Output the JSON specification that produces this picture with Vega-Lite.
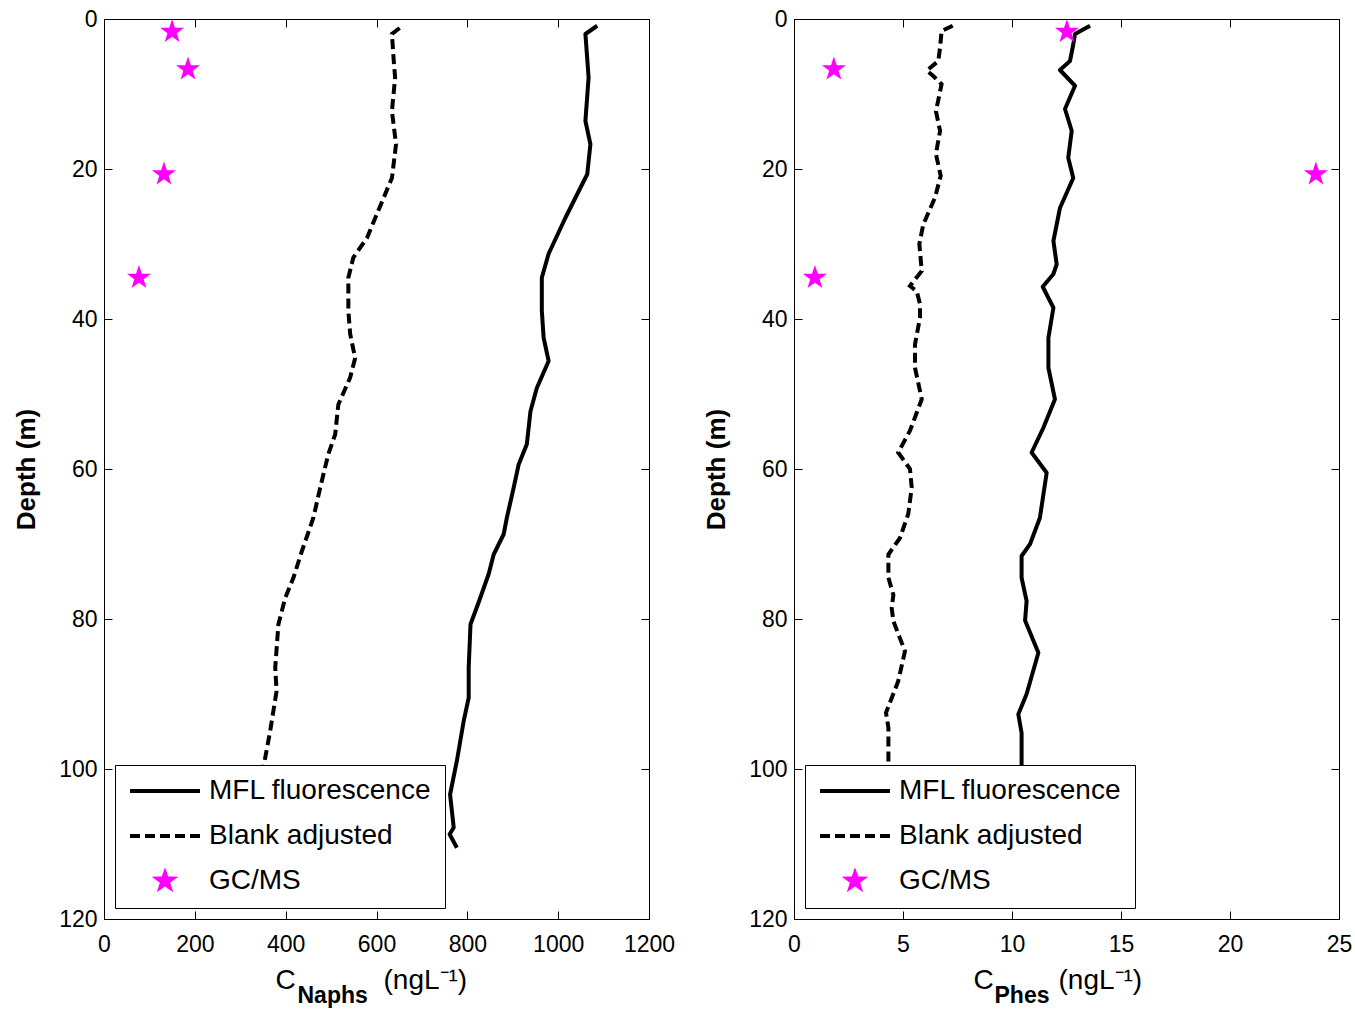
{
  "$schema": "https://vega.github.io/schema/vega-lite/v6.json",
  "background": "white",
  "autosize": {"type": "pad"},
  "padding": {"left": 13, "top": 7, "right": 2, "bottom": 0},
  "bounds": "flush",
  "spacing": 145,
  "config": {
    "font": "Liberation Sans",
    "view": {"stroke": "black", "strokeWidth": 1},
    "axis": {
      "grid": false, "domainColor": "black", "tickColor": "black", "labelColor": "black", "titleColor": "black",
      "labelFont": "Liberation Sans", "titleFont": "Liberation Sans", "labelFontSize": 23,
      "tickSize": -8, "domainWidth": 1, "tickWidth": 1, "labelFlush": false, "labelOverlap": false
    },
    "legend": {
      "title": null, "orient": "bottom-left", "offset": 11,
      "fillColor": "white", "strokeColor": "black", "padding": 13, "cornerRadius": 0,
      "labelFontSize": 28, "labelFont": "Liberation Sans", "labelColor": "black", "labelLimit": 400,
      "symbolSize": 4900, "symbolStrokeWidth": 4, "clipHeight": 26, "rowPadding": 17, "labelOffset": 7,
      "symbolType": "stroke"
    }
  },
  "datasets": {
    "naphs": [
      {"series": "MFL fluorescence", "depth": 0.9, "value": 1086},
      {"series": "MFL fluorescence", "depth": 2.0, "value": 1060},
      {"series": "MFL fluorescence", "depth": 7.8, "value": 1067},
      {"series": "MFL fluorescence", "depth": 13.6, "value": 1060},
      {"series": "MFL fluorescence", "depth": 16.7, "value": 1071},
      {"series": "MFL fluorescence", "depth": 20.7, "value": 1064},
      {"series": "MFL fluorescence", "depth": 22.5, "value": 1049},
      {"series": "MFL fluorescence", "depth": 26.5, "value": 1016},
      {"series": "MFL fluorescence", "depth": 31.3, "value": 979},
      {"series": "MFL fluorescence", "depth": 34.5, "value": 964},
      {"series": "MFL fluorescence", "depth": 38.9, "value": 964},
      {"series": "MFL fluorescence", "depth": 42.5, "value": 968},
      {"series": "MFL fluorescence", "depth": 45.6, "value": 979},
      {"series": "MFL fluorescence", "depth": 49.2, "value": 953},
      {"series": "MFL fluorescence", "depth": 52.3, "value": 939},
      {"series": "MFL fluorescence", "depth": 56.7, "value": 931},
      {"series": "MFL fluorescence", "depth": 59.4, "value": 913},
      {"series": "MFL fluorescence", "depth": 62.5, "value": 902},
      {"series": "MFL fluorescence", "depth": 66.5, "value": 887},
      {"series": "MFL fluorescence", "depth": 68.7, "value": 880},
      {"series": "MFL fluorescence", "depth": 71.4, "value": 858},
      {"series": "MFL fluorescence", "depth": 74.0, "value": 847},
      {"series": "MFL fluorescence", "depth": 77.6, "value": 826},
      {"series": "MFL fluorescence", "depth": 80.7, "value": 807},
      {"series": "MFL fluorescence", "depth": 86.5, "value": 803},
      {"series": "MFL fluorescence", "depth": 90.5, "value": 803},
      {"series": "MFL fluorescence", "depth": 93.6, "value": 792},
      {"series": "MFL fluorescence", "depth": 98.9, "value": 777},
      {"series": "MFL fluorescence", "depth": 103.4, "value": 762},
      {"series": "MFL fluorescence", "depth": 107.8, "value": 770},
      {"series": "MFL fluorescence", "depth": 108.7, "value": 761},
      {"series": "MFL fluorescence", "depth": 110.5, "value": 777},
      {"series": "Blank adjusted", "depth": 1.2, "value": 651},
      {"series": "Blank adjusted", "depth": 2.0, "value": 634},
      {"series": "Blank adjusted", "depth": 5.6, "value": 638},
      {"series": "Blank adjusted", "depth": 7.8, "value": 641},
      {"series": "Blank adjusted", "depth": 12.3, "value": 634},
      {"series": "Blank adjusted", "depth": 16.7, "value": 643},
      {"series": "Blank adjusted", "depth": 21.2, "value": 634},
      {"series": "Blank adjusted", "depth": 23.8, "value": 616},
      {"series": "Blank adjusted", "depth": 29.2, "value": 579},
      {"series": "Blank adjusted", "depth": 31.8, "value": 549},
      {"series": "Blank adjusted", "depth": 34.5, "value": 538},
      {"series": "Blank adjusted", "depth": 38.9, "value": 538},
      {"series": "Blank adjusted", "depth": 42.0, "value": 542},
      {"series": "Blank adjusted", "depth": 45.2, "value": 553},
      {"series": "Blank adjusted", "depth": 47.8, "value": 542},
      {"series": "Blank adjusted", "depth": 51.4, "value": 516},
      {"series": "Blank adjusted", "depth": 55.4, "value": 509},
      {"series": "Blank adjusted", "depth": 58.0, "value": 494},
      {"series": "Blank adjusted", "depth": 62.5, "value": 476},
      {"series": "Blank adjusted", "depth": 66.5, "value": 461},
      {"series": "Blank adjusted", "depth": 70.9, "value": 436},
      {"series": "Blank adjusted", "depth": 74.5, "value": 417},
      {"series": "Blank adjusted", "depth": 77.2, "value": 399},
      {"series": "Blank adjusted", "depth": 80.7, "value": 384},
      {"series": "Blank adjusted", "depth": 86.5, "value": 377},
      {"series": "Blank adjusted", "depth": 89.6, "value": 380},
      {"series": "Blank adjusted", "depth": 94.9, "value": 366},
      {"series": "Blank adjusted", "depth": 99.8, "value": 351},
      {"series": "Blank adjusted", "depth": 103.4, "value": 337},
      {"series": "Blank adjusted", "depth": 107.8, "value": 345},
      {"series": "Blank adjusted", "depth": 108.7, "value": 336},
      {"series": "Blank adjusted", "depth": 110.5, "value": 352},
      {"series": "GC/MS", "depth": 1.7, "value": 150},
      {"series": "GC/MS", "depth": 6.7, "value": 185},
      {"series": "GC/MS", "depth": 20.7, "value": 132},
      {"series": "GC/MS", "depth": 34.5, "value": 77}
    ],
    "phes": [
      {"series": "MFL fluorescence", "depth": 0.9, "value": 13.58},
      {"series": "MFL fluorescence", "depth": 2.0, "value": 12.89},
      {"series": "MFL fluorescence", "depth": 3.4, "value": 12.81},
      {"series": "MFL fluorescence", "depth": 5.6, "value": 12.66},
      {"series": "MFL fluorescence", "depth": 6.8, "value": 12.2},
      {"series": "MFL fluorescence", "depth": 8.9, "value": 12.89},
      {"series": "MFL fluorescence", "depth": 12.0, "value": 12.43},
      {"series": "MFL fluorescence", "depth": 14.9, "value": 12.74},
      {"series": "MFL fluorescence", "depth": 18.5, "value": 12.58},
      {"series": "MFL fluorescence", "depth": 21.2, "value": 12.81},
      {"series": "MFL fluorescence", "depth": 25.2, "value": 12.2},
      {"series": "MFL fluorescence", "depth": 29.6, "value": 11.9},
      {"series": "MFL fluorescence", "depth": 32.7, "value": 12.05},
      {"series": "MFL fluorescence", "depth": 34.0, "value": 11.9},
      {"series": "MFL fluorescence", "depth": 35.7, "value": 11.41},
      {"series": "MFL fluorescence", "depth": 38.5, "value": 11.9},
      {"series": "MFL fluorescence", "depth": 42.5, "value": 11.67},
      {"series": "MFL fluorescence", "depth": 46.5, "value": 11.67},
      {"series": "MFL fluorescence", "depth": 50.7, "value": 11.97},
      {"series": "MFL fluorescence", "depth": 54.5, "value": 11.44},
      {"series": "MFL fluorescence", "depth": 57.8, "value": 10.9},
      {"series": "MFL fluorescence", "depth": 60.5, "value": 11.59},
      {"series": "MFL fluorescence", "depth": 63.4, "value": 11.44},
      {"series": "MFL fluorescence", "depth": 66.5, "value": 11.28},
      {"series": "MFL fluorescence", "depth": 70.0, "value": 10.83},
      {"series": "MFL fluorescence", "depth": 71.6, "value": 10.44},
      {"series": "MFL fluorescence", "depth": 74.5, "value": 10.44},
      {"series": "MFL fluorescence", "depth": 77.6, "value": 10.67},
      {"series": "MFL fluorescence", "depth": 80.2, "value": 10.6},
      {"series": "MFL fluorescence", "depth": 84.5, "value": 11.21},
      {"series": "MFL fluorescence", "depth": 90.0, "value": 10.67},
      {"series": "MFL fluorescence", "depth": 92.7, "value": 10.29},
      {"series": "MFL fluorescence", "depth": 95.2, "value": 10.44},
      {"series": "MFL fluorescence", "depth": 100.0, "value": 10.44},
      {"series": "MFL fluorescence", "depth": 105.0, "value": 10.5},
      {"series": "MFL fluorescence", "depth": 110.5, "value": 10.6},
      {"series": "Blank adjusted", "depth": 0.9, "value": 7.28},
      {"series": "Blank adjusted", "depth": 1.6, "value": 6.77},
      {"series": "Blank adjusted", "depth": 3.8, "value": 6.7},
      {"series": "Blank adjusted", "depth": 5.6, "value": 6.62},
      {"series": "Blank adjusted", "depth": 6.9, "value": 6.09},
      {"series": "Blank adjusted", "depth": 7.6, "value": 6.39},
      {"series": "Blank adjusted", "depth": 8.7, "value": 6.77},
      {"series": "Blank adjusted", "depth": 12.3, "value": 6.51},
      {"series": "Blank adjusted", "depth": 14.9, "value": 6.7},
      {"series": "Blank adjusted", "depth": 18.0, "value": 6.51},
      {"series": "Blank adjusted", "depth": 20.9, "value": 6.73},
      {"series": "Blank adjusted", "depth": 23.8, "value": 6.47},
      {"series": "Blank adjusted", "depth": 27.4, "value": 5.93},
      {"series": "Blank adjusted", "depth": 30.0, "value": 5.75},
      {"series": "Blank adjusted", "depth": 33.6, "value": 5.86},
      {"series": "Blank adjusted", "depth": 35.6, "value": 5.32},
      {"series": "Blank adjusted", "depth": 36.3, "value": 5.63},
      {"series": "Blank adjusted", "depth": 38.0, "value": 5.78},
      {"series": "Blank adjusted", "depth": 39.8, "value": 5.78},
      {"series": "Blank adjusted", "depth": 43.4, "value": 5.55},
      {"series": "Blank adjusted", "depth": 46.5, "value": 5.55},
      {"series": "Blank adjusted", "depth": 50.7, "value": 5.86},
      {"series": "Blank adjusted", "depth": 54.9, "value": 5.32},
      {"series": "Blank adjusted", "depth": 57.8, "value": 4.78},
      {"series": "Blank adjusted", "depth": 60.0, "value": 5.32},
      {"series": "Blank adjusted", "depth": 62.5, "value": 5.4},
      {"series": "Blank adjusted", "depth": 66.0, "value": 5.24},
      {"series": "Blank adjusted", "depth": 69.2, "value": 4.86},
      {"series": "Blank adjusted", "depth": 71.4, "value": 4.33},
      {"series": "Blank adjusted", "depth": 74.5, "value": 4.33},
      {"series": "Blank adjusted", "depth": 76.8, "value": 4.56},
      {"series": "Blank adjusted", "depth": 78.5, "value": 4.48},
      {"series": "Blank adjusted", "depth": 80.3, "value": 4.56},
      {"series": "Blank adjusted", "depth": 84.3, "value": 5.09},
      {"series": "Blank adjusted", "depth": 88.3, "value": 4.78},
      {"series": "Blank adjusted", "depth": 92.5, "value": 4.22},
      {"series": "Blank adjusted", "depth": 94.5, "value": 4.33},
      {"series": "Blank adjusted", "depth": 100.0, "value": 4.33},
      {"series": "Blank adjusted", "depth": 105.0, "value": 4.4},
      {"series": "Blank adjusted", "depth": 110.5, "value": 4.5},
      {"series": "GC/MS", "depth": 1.7, "value": 12.52},
      {"series": "GC/MS", "depth": 6.7, "value": 1.83},
      {"series": "GC/MS", "depth": 20.7, "value": 23.94},
      {"series": "GC/MS", "depth": 34.5, "value": 0.96}
    ]
  },
  "resolve": {"legend": {"color": "independent"}, "scale": {"color": "independent"}},
  "hconcat": [
    {
      "width": 545, "height": 900,
      "data": {"name": "naphs"},
      "resolve": {"axis": {"x": "independent", "y": "independent"}},
      "encoding": {
        "color": {
          "field": "series", "type": "nominal",
          "scale": {"domain": ["MFL fluorescence", "Blank adjusted", "GC/MS"], "range": ["black", "black", "#ff00ff"]},
          "legend": {
            "encode": {"symbols": {"update": {
              "shape": {"signal": "datum.value === 'GC/MS' ? 'M0,-0.22L0.0506,-0.0695L0.209,-0.068L0.0816,0.0266L0.129,0.178L0,0.0858L-0.129,0.178L-0.0816,0.0266L-0.209,-0.068L-0.0506,-0.0695Z' : 'stroke'"},
              "fill": {"signal": "datum.value === 'GC/MS' ? '#ff00ff' : 'transparent'"},
              "stroke": {"signal": "datum.value === 'GC/MS' ? 'transparent' : 'black'"},
              "strokeDash": {"signal": "datum.value === 'Blank adjusted' ? [10, 5] : [1, 0]"},
              "opacity": {"value": 1}
            }}}
          }
        }
      },
      "layer": [
        {
          "transform": [{"filter": "datum.series === 'MFL fluorescence'"}],
          "mark": {"type": "line", "strokeWidth": 4, "strokeJoin": "round"},
          "encoding": {
            "order": {"field": "depth", "type": "quantitative"},
            "x": {"field": "value", "type": "quantitative", "scale": {"domain": [0, 1200], "nice": false},
              "axis": {"orient": "bottom", "values": [0, 200, 400, 600, 800, 1000, 1200], "format": "d", "labelPadding": 22,
                "title": "C", "titleFontSize": 28, "titleFontWeight": "normal",
                "titleX": 171, "titleY": 69, "titleAlign": "left", "titleAnchor": "start", "titleBaseline": "alphabetic"}},
            "y": {"field": "depth", "type": "quantitative", "scale": {"domain": [0, 120], "reverse": true, "nice": false, "zero": false},
              "axis": {"orient": "left", "values": [0, 20, 40, 60, 80, 100, 120], "labelPadding": 15,
                "title": "Depth (m)", "titleFontSize": 26, "titleFontWeight": "bold", "titlePadding": 19}}
          }
        },
        {
          "transform": [{"filter": "datum.series === 'Blank adjusted'"}],
          "mark": {"type": "line", "strokeWidth": 4, "strokeDash": [10, 5]},
          "encoding": {
            "order": {"field": "depth", "type": "quantitative"},
            "x": {"field": "value", "type": "quantitative", "scale": {"domain": [0, 1200], "nice": false},
              "axis": {"orient": "bottom", "labels": false, "ticks": false, "domain": false,
                "title": "Naphs", "titleFontSize": 23, "titleFontWeight": "bold",
                "titleX": 193, "titleY": 83, "titleAlign": "left", "titleAnchor": "start", "titleBaseline": "alphabetic"}},
            "y": {"field": "depth", "type": "quantitative", "scale": {"domain": [0, 120], "reverse": true, "nice": false, "zero": false}, "axis": null}
          }
        },
        {
          "transform": [{"filter": "datum.series === 'GC/MS'"}],
          "mark": {"type": "point", "filled": true, "opacity": 1, "size": 640,
            "shape": "M0,-1L0.229,-0.316L0.951,-0.309L0.371,0.121L0.588,0.809L0,0.39L-0.588,0.809L-0.371,0.121L-0.951,-0.309L-0.229,-0.316Z"},
          "encoding": {
            "x": {"field": "value", "type": "quantitative", "scale": {"domain": [0, 1200], "nice": false},
              "axis": {"orient": "top", "values": [0, 200, 400, 600, 800, 1000, 1200], "labels": false,
                "title": "(ngL\u207b\u00b9)", "titleFontSize": 28, "titleFontWeight": "normal",
                "titleX": 279, "titleY": 969, "titleAlign": "left", "titleAnchor": "start", "titleBaseline": "alphabetic"}},
            "y": {"field": "depth", "type": "quantitative", "scale": {"domain": [0, 120], "reverse": true, "nice": false, "zero": false},
              "axis": {"orient": "right", "values": [0, 20, 40, 60, 80, 100, 120], "labels": false, "title": null}}
          }
        }
      ]
    },
    {
      "width": 545, "height": 900,
      "data": {"name": "phes"},
      "resolve": {"axis": {"x": "independent", "y": "independent"}},
      "encoding": {
        "color": {
          "field": "series", "type": "nominal",
          "scale": {"domain": ["MFL fluorescence", "Blank adjusted", "GC/MS"], "range": ["black", "black", "#ff00ff"]},
          "legend": {
            "encode": {"symbols": {"update": {
              "shape": {"signal": "datum.value === 'GC/MS' ? 'M0,-0.22L0.0506,-0.0695L0.209,-0.068L0.0816,0.0266L0.129,0.178L0,0.0858L-0.129,0.178L-0.0816,0.0266L-0.209,-0.068L-0.0506,-0.0695Z' : 'stroke'"},
              "fill": {"signal": "datum.value === 'GC/MS' ? '#ff00ff' : 'transparent'"},
              "stroke": {"signal": "datum.value === 'GC/MS' ? 'transparent' : 'black'"},
              "strokeDash": {"signal": "datum.value === 'Blank adjusted' ? [10, 5] : [1, 0]"},
              "opacity": {"value": 1}
            }}}
          }
        }
      },
      "layer": [
        {
          "transform": [{"filter": "datum.series === 'MFL fluorescence'"}],
          "mark": {"type": "line", "strokeWidth": 4, "strokeJoin": "round"},
          "encoding": {
            "order": {"field": "depth", "type": "quantitative"},
            "x": {"field": "value", "type": "quantitative", "scale": {"domain": [0, 25], "nice": false},
              "axis": {"orient": "bottom", "values": [0, 5, 10, 15, 20, 25], "format": "d", "labelPadding": 22,
                "title": "C", "titleFontSize": 28, "titleFontWeight": "normal",
                "titleX": 179, "titleY": 69, "titleAlign": "left", "titleAnchor": "start", "titleBaseline": "alphabetic"}},
            "y": {"field": "depth", "type": "quantitative", "scale": {"domain": [0, 120], "reverse": true, "nice": false, "zero": false},
              "axis": {"orient": "left", "values": [0, 20, 40, 60, 80, 100, 120], "labelPadding": 15,
                "title": "Depth (m)", "titleFontSize": 26, "titleFontWeight": "bold", "titlePadding": 19}}
          }
        },
        {
          "transform": [{"filter": "datum.series === 'Blank adjusted'"}],
          "mark": {"type": "line", "strokeWidth": 4, "strokeDash": [10, 5]},
          "encoding": {
            "order": {"field": "depth", "type": "quantitative"},
            "x": {"field": "value", "type": "quantitative", "scale": {"domain": [0, 25], "nice": false},
              "axis": {"orient": "bottom", "labels": false, "ticks": false, "domain": false,
                "title": "Phes", "titleFontSize": 23, "titleFontWeight": "bold",
                "titleX": 200, "titleY": 83, "titleAlign": "left", "titleAnchor": "start", "titleBaseline": "alphabetic"}},
            "y": {"field": "depth", "type": "quantitative", "scale": {"domain": [0, 120], "reverse": true, "nice": false, "zero": false}, "axis": null}
          }
        },
        {
          "transform": [{"filter": "datum.series === 'GC/MS'"}],
          "mark": {"type": "point", "filled": true, "opacity": 1, "size": 640,
            "shape": "M0,-1L0.229,-0.316L0.951,-0.309L0.371,0.121L0.588,0.809L0,0.39L-0.588,0.809L-0.371,0.121L-0.951,-0.309L-0.229,-0.316Z"},
          "encoding": {
            "x": {"field": "value", "type": "quantitative", "scale": {"domain": [0, 25], "nice": false},
              "axis": {"orient": "top", "values": [0, 5, 10, 15, 20, 25], "labels": false,
                "title": "(ngL\u207b\u00b9)", "titleFontSize": 28, "titleFontWeight": "normal",
                "titleX": 264, "titleY": 969, "titleAlign": "left", "titleAnchor": "start", "titleBaseline": "alphabetic"}},
            "y": {"field": "depth", "type": "quantitative", "scale": {"domain": [0, 120], "reverse": true, "nice": false, "zero": false},
              "axis": {"orient": "right", "values": [0, 20, 40, 60, 80, 100, 120], "labels": false, "title": null}}
          }
        }
      ]
    }
  ]
}
